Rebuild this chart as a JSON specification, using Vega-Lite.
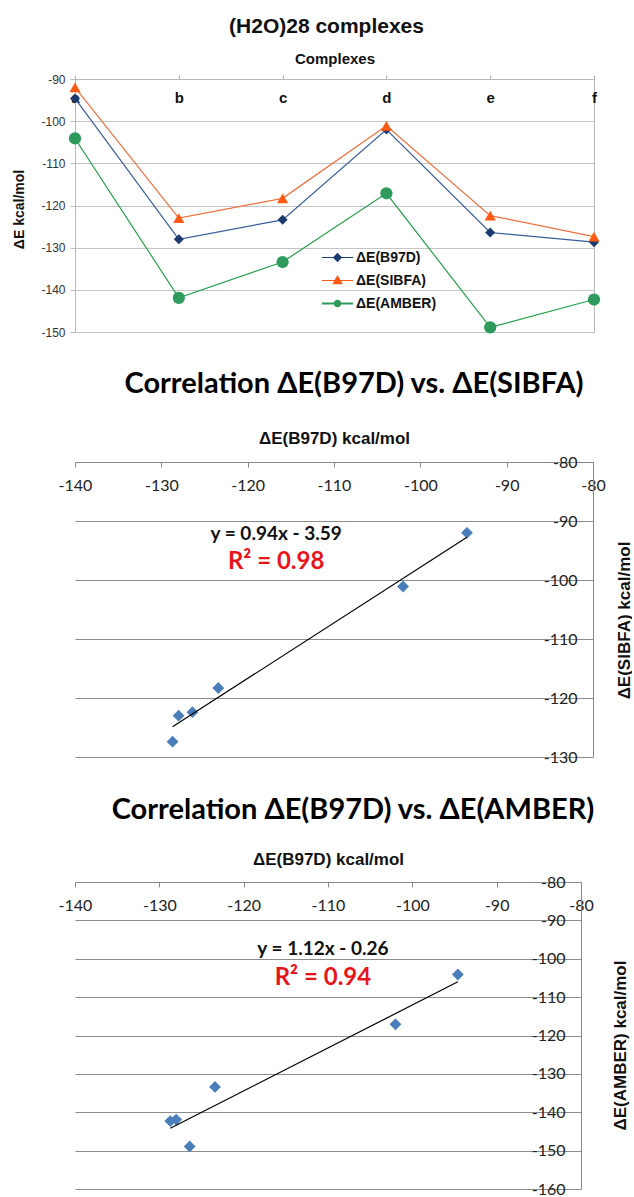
{
  "$schema": "https://vega.github.io/schema/vega-lite/v6.json",
  "padding": {"left": 11, "top": 15, "right": 0, "bottom": 0},
  "spacing": 31,
  "background": "white",
  "config": {"view": {"stroke": null}},
  "datasets": {
    "energies": [
      {"complex": "a", "ΔE(B97D)": -94.6, "ΔE(SIBFA)": -92.0, "ΔE(AMBER)": -104.1},
      {"complex": "b", "ΔE(B97D)": -128.0, "ΔE(SIBFA)": -123.0, "ΔE(AMBER)": -141.9},
      {"complex": "c", "ΔE(B97D)": -123.4, "ΔE(SIBFA)": -118.3, "ΔE(AMBER)": -133.4},
      {"complex": "d", "ΔE(B97D)": -102.0, "ΔE(SIBFA)": -101.1, "ΔE(AMBER)": -117.1},
      {"complex": "e", "ΔE(B97D)": -126.4, "ΔE(SIBFA)": -122.4, "ΔE(AMBER)": -148.9},
      {"complex": "f", "ΔE(B97D)": -128.7, "ΔE(SIBFA)": -127.4, "ΔE(AMBER)": -142.3}
    ]
  },
  "vconcat": [
    {
      "width": 519,
      "height": 253,
      "view": {"stroke": "#b8b8b8", "strokeWidth": 1},
      "title": {"text": "(H2O)28 complexes", "font": "Liberation Sans", "fontSize": 21, "fontWeight": "bold", "color": "#111", "anchor": "middle", "frame": "group", "dx": -8, "offset": -3, "baseline": "alphabetic"},
      "data": {"name": "energies"},
      "transform": [{"fold": ["ΔE(B97D)", "ΔE(SIBFA)", "ΔE(AMBER)"], "as": ["series", "energy"]}],
      "encoding": {
        "x": {"field": "complex", "type": "ordinal", "scale": {"type": "point", "padding": 0},
          "axis": {"orient": "top", "title": "Complexes", "titleFont": "Liberation Sans", "titleFontSize": 15, "titleFontWeight": "bold", "titleColor": "#111", "titleY": -21, "titleBaseline": "middle",
            "labelFont": "Liberation Sans", "labelFontSize": 15, "labelFontWeight": "bold", "labelColor": "#111", "labelAngle": 0, "labelBaseline": "middle", "labelPadding": -22,
            "tickSize": 4, "tickColor": "#aaa", "domainColor": "#b8b8b8", "grid": false}},
        "y": {"field": "energy", "type": "quantitative", "scale": {"domain": [-150, -90], "nice": false},
          "axis": {"orient": "left", "title": "ΔE kcal/mol", "titleFont": "Liberation Sans", "titleFontSize": 14, "titleFontWeight": "bold", "titleColor": "#111", "titleAngle": 270, "titleX": -56, "titleY": 130, "titleBaseline": "middle", "titleAlign": "center",
            "values": [-150, -140, -130, -120, -110, -100, -90], "labelExpr": "'' + datum.value", "labelOverlap": false, "labelFont": "Liberation Sans", "labelFontSize": 12, "labelColor": "#333", "labelPadding": 5,
            "tickSize": 5, "tickColor": "#bbb", "domainColor": "#b8b8b8", "grid": true, "gridColor": "#c4c4c4"}}
      },
      "layer": [
        {
          "mark": {"type": "line"},
          "encoding": {
            "color": {"field": "series", "type": "nominal", "scale": {"domain": ["ΔE(B97D)", "ΔE(SIBFA)", "ΔE(AMBER)"], "range": ["#3a5c9c", "#f0703c", "#22a04a"]}, "legend": null},
            "strokeWidth": {"field": "series", "type": "nominal", "scale": {"domain": ["ΔE(B97D)", "ΔE(SIBFA)", "ΔE(AMBER)"], "range": [1.2, 1.2, 2.6]}, "legend": null}
          }
        },
        {
          "mark": {"type": "point", "filled": true, "opacity": 1},
          "encoding": {
            "color": {"field": "series", "type": "nominal", "scale": {"domain": ["ΔE(B97D)", "ΔE(SIBFA)", "ΔE(AMBER)"], "range": ["#1b3a6e", "#ff5a14", "#2e9a5c"]}, "legend": null},
            "shape": {"field": "series", "type": "nominal", "scale": {"domain": ["ΔE(B97D)", "ΔE(SIBFA)", "ΔE(AMBER)"], "range": ["diamond", "triangle-up", "circle"]}, "legend": null},
            "size": {"field": "series", "type": "nominal", "scale": {"domain": ["ΔE(B97D)", "ΔE(SIBFA)", "ΔE(AMBER)"], "range": [100, 150, 50]}, "legend": null}
          }
        },
        {
          "transform": [{"filter": "false"}],
          "mark": {"type": "point", "filled": true, "opacity": 1},
          "encoding": {
            "color": {"field": "series", "type": "nominal", "scale": {"domain": ["ΔE(B97D)", "ΔE(SIBFA)", "ΔE(AMBER)"], "range": ["#1b3a6e", "#ff5a14", "#2e9a5c"]},
              "legend": {"orient": "none", "legendX": 247, "legendY": 163, "title": null, "padding": 0, "symbolSize": 961, "symbolStrokeWidth": 0, "labelFont": "Liberation Sans", "labelFontSize": 14, "labelFontWeight": "bold", "labelColor": "#111", "labelOffset": 3, "rowPadding": -9}},
            "shape": {"field": "series", "type": "nominal", "scale": {"domain": ["ΔE(B97D)", "ΔE(SIBFA)", "ΔE(AMBER)"], "range": [
              "M-1,-0.035H1V0.035H-1Z M0,-0.3L0.3,0L0,0.3L-0.3,0Z",
              "M-1,-0.035H1V0.035H-1Z M0,-0.36L0.34,0.24L-0.34,0.24Z",
              "M-1,-0.07H1V0.07H-1Z M0.24,0A0.24,0.24,0,1,1,-0.24,0A0.24,0.24,0,1,1,0.24,0Z"]},
              "legend": {"orient": "none", "legendX": 247, "legendY": 163, "title": null, "padding": 0, "symbolSize": 961, "symbolStrokeWidth": 0, "labelFont": "Liberation Sans", "labelFontSize": 14, "labelFontWeight": "bold", "labelColor": "#111", "labelOffset": 3, "rowPadding": -9}}
          }
        }
      ],
      "resolve": {"scale": {"color": "independent", "shape": "independent"}}
    },
    {
      "width": 518,
      "height": 295,
      "title": {"text": "Correlation ΔE(B97D) vs. ΔE(SIBFA)", "font": "Lato", "fontSize": 29, "fontWeight": "bold", "color": "#000", "anchor": "middle", "frame": "group", "dx": 20, "offset": 7, "baseline": "alphabetic"},
      "layer": [
        {
          "data": {"name": "energies"},
          "encoding": {
            "x": {"field": "ΔE(B97D)", "type": "quantitative", "scale": {"domain": [-140, -80], "nice": false},
              "axis": {"orient": "top", "title": "ΔE(B97D) kcal/mol", "titleFont": "Liberation Sans", "titleFontSize": 17, "titleFontWeight": "bold", "titleColor": "#111", "titleY": -24, "titleBaseline": "middle",
                "values": [-140, -130, -120, -110, -100, -90, -80], "labelExpr": "'' + datum.value", "labelOverlap": false, "labelFont": "Lato", "labelFontSize": 16, "labelColor": "#222", "labelBaseline": "middle", "labelPadding": -18, "labelFlush": false,
                "tickSize": -5, "tickColor": "#888", "domainColor": "#888", "grid": false}},
            "y": {"field": "ΔE(SIBFA)", "type": "quantitative", "scale": {"domain": [-130, -80], "nice": false},
              "axis": {"orient": "right", "title": "ΔE(SIBFA) kcal/mol", "titleFont": "Liberation Sans", "titleFontSize": 17, "titleFontWeight": "bold", "titleColor": "#111", "titleAngle": 270, "titleX": 31, "titleY": 158, "titleBaseline": "middle", "titleAlign": "center",
                "values": [-130, -120, -110, -100, -90, -80], "labelExpr": "'' + datum.value", "labelOverlap": false, "labelFont": "Lato", "labelFontSize": 16, "labelColor": "#222", "labelAlign": "right", "labelPadding": -16, "labelFlush": false,
                "ticks": false, "domainColor": "#888", "grid": true, "gridColor": "#8c8c8c"}}
          },
          "layer": [
            {"mark": {"type": "point", "shape": "diamond", "filled": true, "color": "#4a7ebb", "size": 140, "opacity": 1}},
            {"transform": [{"regression": "ΔE(SIBFA)", "on": "ΔE(B97D)"}], "mark": {"type": "line", "color": "#000", "strokeWidth": 1.2}}
          ]
        },
        {
          "data": {"values": [{"note": "y = 0.94x - 3.59"}]},
          "mark": {"type": "text", "font": "Lato", "fontSize": 19, "fontWeight": "bold", "color": "#111"},
          "encoding": {
            "x": {"datum": -116.7, "type": "quantitative", "scale": {"domain": [-140, -80], "nice": false},
              "axis": {"orient": "top", "title": "ΔE(B97D) kcal/mol", "titleFont": "Liberation Sans", "titleFontSize": 17, "titleFontWeight": "bold", "titleColor": "#111", "titleY": -24, "titleBaseline": "middle",
                "values": [-140, -130, -120, -110, -100, -90, -80], "labelExpr": "'' + datum.value", "labelOverlap": false, "labelFont": "Lato", "labelFontSize": 16, "labelColor": "#222", "labelBaseline": "middle", "labelPadding": -18, "labelFlush": false,
                "tickSize": -5, "tickColor": "#888", "domainColor": "#888", "grid": false}},
            "y": {"datum": -92.2, "type": "quantitative", "scale": {"domain": [-130, -80], "nice": false},
              "axis": {"orient": "right", "title": "ΔE(SIBFA) kcal/mol", "titleFont": "Liberation Sans", "titleFontSize": 17, "titleFontWeight": "bold", "titleColor": "#111", "titleAngle": 270, "titleX": 31, "titleY": 158, "titleBaseline": "middle", "titleAlign": "center",
                "values": [-130, -120, -110, -100, -90, -80], "labelExpr": "'' + datum.value", "labelOverlap": false, "labelFont": "Lato", "labelFontSize": 16, "labelColor": "#222", "labelAlign": "right", "labelPadding": -16, "labelFlush": false,
                "ticks": false, "domainColor": "#888", "grid": true, "gridColor": "#8c8c8c"}},
            "text": {"field": "note"}
          }
        },
        {
          "data": {"values": [{"note": "R² = 0.98"}]},
          "mark": {"type": "text", "font": "Lato", "fontSize": 24, "fontWeight": "bold", "color": "#e8141b"},
          "encoding": {
            "x": {"datum": -116.7, "type": "quantitative", "scale": {"domain": [-140, -80], "nice": false},
              "axis": {"orient": "top", "title": "ΔE(B97D) kcal/mol", "titleFont": "Liberation Sans", "titleFontSize": 17, "titleFontWeight": "bold", "titleColor": "#111", "titleY": -24, "titleBaseline": "middle",
                "values": [-140, -130, -120, -110, -100, -90, -80], "labelExpr": "'' + datum.value", "labelOverlap": false, "labelFont": "Lato", "labelFontSize": 16, "labelColor": "#222", "labelBaseline": "middle", "labelPadding": -18, "labelFlush": false,
                "tickSize": -5, "tickColor": "#888", "domainColor": "#888", "grid": false}},
            "y": {"datum": -96.9, "type": "quantitative", "scale": {"domain": [-130, -80], "nice": false},
              "axis": {"orient": "right", "title": "ΔE(SIBFA) kcal/mol", "titleFont": "Liberation Sans", "titleFontSize": 17, "titleFontWeight": "bold", "titleColor": "#111", "titleAngle": 270, "titleX": 31, "titleY": 158, "titleBaseline": "middle", "titleAlign": "center",
                "values": [-130, -120, -110, -100, -90, -80], "labelExpr": "'' + datum.value", "labelOverlap": false, "labelFont": "Lato", "labelFontSize": 16, "labelColor": "#222", "labelAlign": "right", "labelPadding": -16, "labelFlush": false,
                "ticks": false, "domainColor": "#888", "grid": true, "gridColor": "#8c8c8c"}},
            "text": {"field": "note"}
          }
        }
      ]
    },
    {
      "width": 506,
      "height": 307,
      "title": {"text": "Correlation ΔE(B97D) vs. ΔE(AMBER)", "font": "Lato", "fontSize": 29, "fontWeight": "bold", "color": "#000", "anchor": "middle", "frame": "group", "dx": 25, "offset": 2, "baseline": "alphabetic"},
      "layer": [
        {
          "data": {"name": "energies"},
          "encoding": {
            "x": {"field": "ΔE(B97D)", "type": "quantitative", "scale": {"domain": [-140, -80], "nice": false},
              "axis": {"orient": "top", "title": "ΔE(B97D) kcal/mol", "titleFont": "Liberation Sans", "titleFontSize": 17, "titleFontWeight": "bold", "titleColor": "#111", "titleY": -23, "titleBaseline": "middle",
                "values": [-140, -130, -120, -110, -100, -90, -80], "labelExpr": "'' + datum.value", "labelOverlap": false, "labelFont": "Lato", "labelFontSize": 16, "labelColor": "#222", "labelBaseline": "middle", "labelPadding": -18, "labelFlush": false,
                "tickSize": -5, "tickColor": "#888", "domainColor": "#888", "grid": false}},
            "y": {"field": "ΔE(AMBER)", "type": "quantitative", "scale": {"domain": [-160, -80], "nice": false},
              "axis": {"orient": "right", "title": "ΔE(AMBER) kcal/mol", "titleFont": "Liberation Sans", "titleFontSize": 17, "titleFontWeight": "bold", "titleColor": "#111", "titleAngle": 270, "titleX": 39, "titleY": 163, "titleBaseline": "middle", "titleAlign": "center",
                "values": [-160, -150, -140, -130, -120, -110, -100, -90, -80], "labelExpr": "'' + datum.value", "labelOverlap": false, "labelFont": "Lato", "labelFontSize": 16, "labelColor": "#222", "labelAlign": "right", "labelPadding": -16, "labelFlush": false,
                "ticks": false, "domainColor": "#888", "grid": true, "gridColor": "#8c8c8c"}}
          },
          "layer": [
            {"mark": {"type": "point", "shape": "diamond", "filled": true, "color": "#4a7ebb", "size": 140, "opacity": 1}},
            {"transform": [{"regression": "ΔE(AMBER)", "on": "ΔE(B97D)"}], "mark": {"type": "line", "color": "#000", "strokeWidth": 1.2}}
          ]
        },
        {
          "data": {"values": [{"note": "y = 1.12x - 0.26"}]},
          "mark": {"type": "text", "font": "Lato", "fontSize": 19, "fontWeight": "bold", "color": "#111"},
          "encoding": {
            "x": {"datum": -110.6, "type": "quantitative", "scale": {"domain": [-140, -80], "nice": false},
              "axis": {"orient": "top", "title": "ΔE(B97D) kcal/mol", "titleFont": "Liberation Sans", "titleFontSize": 17, "titleFontWeight": "bold", "titleColor": "#111", "titleY": -23, "titleBaseline": "middle",
                "values": [-140, -130, -120, -110, -100, -90, -80], "labelExpr": "'' + datum.value", "labelOverlap": false, "labelFont": "Lato", "labelFontSize": 16, "labelColor": "#222", "labelBaseline": "middle", "labelPadding": -18, "labelFlush": false,
                "tickSize": -5, "tickColor": "#888", "domainColor": "#888", "grid": false}},
            "y": {"datum": -97.5, "type": "quantitative", "scale": {"domain": [-160, -80], "nice": false},
              "axis": {"orient": "right", "title": "ΔE(AMBER) kcal/mol", "titleFont": "Liberation Sans", "titleFontSize": 17, "titleFontWeight": "bold", "titleColor": "#111", "titleAngle": 270, "titleX": 39, "titleY": 163, "titleBaseline": "middle", "titleAlign": "center",
                "values": [-160, -150, -140, -130, -120, -110, -100, -90, -80], "labelExpr": "'' + datum.value", "labelOverlap": false, "labelFont": "Lato", "labelFontSize": 16, "labelColor": "#222", "labelAlign": "right", "labelPadding": -16, "labelFlush": false,
                "ticks": false, "domainColor": "#888", "grid": true, "gridColor": "#8c8c8c"}},
            "text": {"field": "note"}
          }
        },
        {
          "data": {"values": [{"note": "R² = 0.94"}]},
          "mark": {"type": "text", "font": "Lato", "fontSize": 24, "fontWeight": "bold", "color": "#e8141b"},
          "encoding": {
            "x": {"datum": -110.6, "type": "quantitative", "scale": {"domain": [-140, -80], "nice": false},
              "axis": {"orient": "top", "title": "ΔE(B97D) kcal/mol", "titleFont": "Liberation Sans", "titleFontSize": 17, "titleFontWeight": "bold", "titleColor": "#111", "titleY": -23, "titleBaseline": "middle",
                "values": [-140, -130, -120, -110, -100, -90, -80], "labelExpr": "'' + datum.value", "labelOverlap": false, "labelFont": "Lato", "labelFontSize": 16, "labelColor": "#222", "labelBaseline": "middle", "labelPadding": -18, "labelFlush": false,
                "tickSize": -5, "tickColor": "#888", "domainColor": "#888", "grid": false}},
            "y": {"datum": -105.0, "type": "quantitative", "scale": {"domain": [-160, -80], "nice": false},
              "axis": {"orient": "right", "title": "ΔE(AMBER) kcal/mol", "titleFont": "Liberation Sans", "titleFontSize": 17, "titleFontWeight": "bold", "titleColor": "#111", "titleAngle": 270, "titleX": 39, "titleY": 163, "titleBaseline": "middle", "titleAlign": "center",
                "values": [-160, -150, -140, -130, -120, -110, -100, -90, -80], "labelExpr": "'' + datum.value", "labelOverlap": false, "labelFont": "Lato", "labelFontSize": 16, "labelColor": "#222", "labelAlign": "right", "labelPadding": -16, "labelFlush": false,
                "ticks": false, "domainColor": "#888", "grid": true, "gridColor": "#8c8c8c"}},
            "text": {"field": "note"}
          }
        }
      ]
    }
  ]
}
